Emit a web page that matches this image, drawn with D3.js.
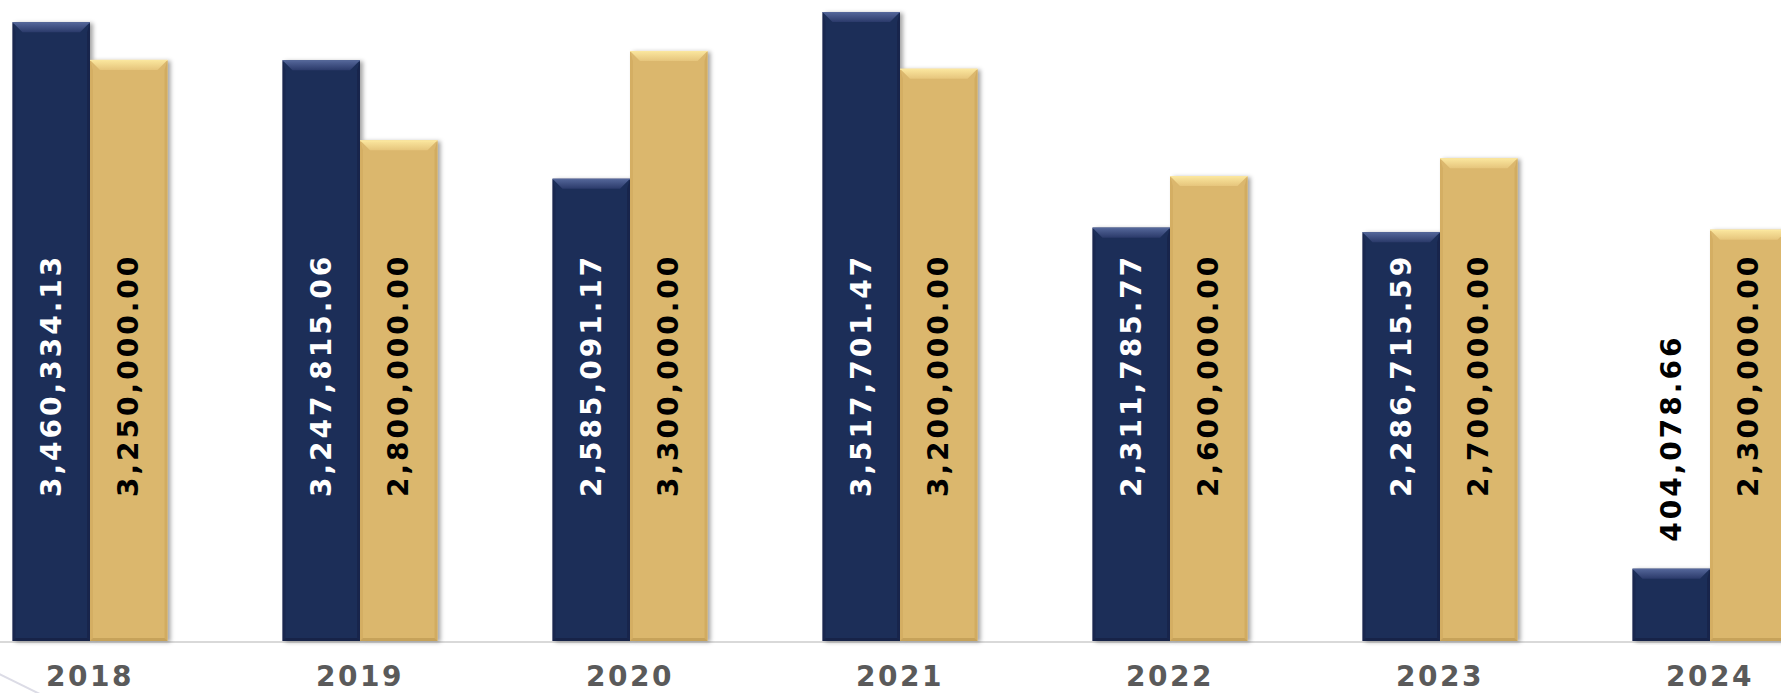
<!DOCTYPE html>
<html>
<head>
<meta charset="utf-8">
<script src="https://cdn.jsdelivr.net/npm/d3@7"></script>
<style>
  html, body { margin: 0; padding: 0; background: #ffffff; }
  svg { display: block; }
  text { font-family: "DejaVu Sans", sans-serif; font-weight: bold; }
</style>
</head>
<body>
<svg id="chart" width="1781" height="693"></svg>
<script>
// Yearly figures: actual amounts vs. planned amounts
const years = ["2018", "2019", "2020", "2021", "2022", "2023", "2024"];
const actual = [3460334.13, 3247815.06, 2585091.17, 3517701.47, 2311785.77, 2286715.59, 404078.66];
const planned = [3250000.00, 2800000.00, 3300000.00, 3200000.00, 2600000.00, 2700000.00, 2300000.00];
const seriesKeys = ["actual", "planned"];

const W = 1781, H = 693;
const baseY = 641;

const svg = d3.select("#chart");
const defs = svg.append("defs");

const palette = {
  actual:  { fill: "#1f2d58", bevelTop: "#55679a", bevelTop2: "#2b3a6a", side: "#18234a", bottom: "#141d3e", text: "#ffffff" },
  planned: { fill: "#dbb76d", bevelTop: "#fbe79f", bevelTop2: "#e6c57c", side: "#cfa95e", bottom: "#b8944e", text: "#000000" }
};

// soft shadow behind each bar
const shadow = defs.append("filter").attr("id", "barShadow")
  .attr("x", "-20%").attr("y", "-5%").attr("width", "140%").attr("height", "110%");
shadow.append("feDropShadow")
  .attr("dx", 3).attr("dy", 1).attr("stdDeviation", 2.2)
  .attr("flood-color", "#000").attr("flood-opacity", 0.35);

seriesKeys.forEach(k => {
  const g = defs.append("linearGradient").attr("id", "bevel-" + k)
    .attr("x1", 0).attr("y1", 0).attr("x2", 0).attr("y2", 1);
  g.append("stop").attr("offset", "0%").attr("stop-color", palette[k].bevelTop);
  g.append("stop").attr("offset", "100%").attr("stop-color", palette[k].bevelTop2);
});

// decorative swoosh in the lower-left corner
svg.append("line")
  .attr("x1", -5).attr("y1", 672).attr("x2", 48).attr("y2", 698)
  .attr("stroke", "#dcdce6").attr("stroke-width", 2);

const x = d3.scaleBand()
  .domain(years)
  .range([12.5, 1787.5])
  .paddingInner(115 / 270)
  .paddingOuter(0);

const xs = d3.scaleBand()
  .domain(seriesKeys)
  .range([0, x.bandwidth()])
  .padding(0);

const y = d3.scaleLinear()
  .domain([0, 3585000])
  .range([baseY, 0]);

const rows = years.map((yr, i) => ({ year: yr, actual: actual[i], planned: planned[i] }));

// baseline
svg.append("line")
  .attr("x1", 0).attr("x2", W)
  .attr("y1", baseY + 1).attr("y2", baseY + 1)
  .attr("stroke", "#d9d9d9").attr("stroke-width", 2);

const groups = svg.append("g").selectAll("g.year")
  .data(rows).join("g")
  .attr("class", "year")
  .attr("transform", d => `translate(${x(d.year)},0)`);

const bevel = 10;

const bars = groups.selectAll("g.bar")
  .data(d => seriesKeys.map(k => ({ key: k, value: d[k] })))
  .join("g")
  .attr("class", "bar");

bars.each(function (d) {
  const g = d3.select(this);
  const x0 = xs(d.key), w = xs.bandwidth();
  const top = y(d.value), bot = y(0);
  const c = palette[d.key];
  const b = Math.min(bevel, (bot - top) / 2);

  g.append("rect")
    .attr("x", x0).attr("y", top)
    .attr("width", w).attr("height", bot - top)
    .attr("fill", c.fill)
    .attr("filter", "url(#barShadow)");

  // left / right edge bevels
  g.append("path")
    .attr("d", `M${x0},${top} L${x0 + 3},${top + b} L${x0 + 3},${bot - 3} L${x0},${bot} Z`)
    .attr("fill", c.side).attr("opacity", 0.6);
  g.append("path")
    .attr("d", `M${x0 + w},${top} L${x0 + w - 3},${top + b} L${x0 + w - 3},${bot - 3} L${x0 + w},${bot} Z`)
    .attr("fill", c.side).attr("opacity", 0.8);

  // bottom bevel
  g.append("path")
    .attr("d", `M${x0},${bot} L${x0 + 3},${bot - 3} L${x0 + w - 3},${bot - 3} L${x0 + w},${bot} Z`)
    .attr("fill", c.bottom).attr("opacity", 0.6);

  // top bevel
  g.append("path")
    .attr("d", `M${x0},${top} L${x0 + w},${top} L${x0 + w - b},${top + b} L${x0 + b},${top + b} Z`)
    .attr("fill", `url(#bevel-${d.key})`);
  g.append("line")
    .attr("x1", x0).attr("x2", x0 + w)
    .attr("y1", top + 0.5).attr("y2", top + 0.5)
    .attr("stroke", c.bevelTop).attr("stroke-width", 1).attr("opacity", 0.9);
});

// value labels, rotated, reading bottom to top
const fmt = d3.format(",.2f");
const labelStart = baseY - 144;
const labelStyle = { size: 28, spacing: 3 };

bars.each(function (d) {
  const g = d3.select(this);
  const cx = xs(d.key) + xs.bandwidth() / 2;
  const t = g.append("text")
    .attr("font-size", labelStyle.size)
    .attr("letter-spacing", labelStyle.spacing)
    .attr("dominant-baseline", "central")
    .text(fmt(d.value));
  const len = t.node().getComputedTextLength();
  const top = y(d.value);
  let ly, fill;
  if (labelStart - len > top + 12) {
    ly = labelStart;
    fill = palette[d.key].text;
  } else {
    ly = top - 27;
    fill = "#000000";
  }
  t.attr("fill", fill)
    .attr("text-anchor", "start")
    .attr("transform", `translate(${cx},${ly}) rotate(-90)`);
});

// year labels
groups.append("text")
  .attr("x", x.bandwidth() / 2)
  .attr("y", 686)
  .attr("text-anchor", "middle")
  .attr("font-size", 28)
  .attr("letter-spacing", 2.5)
  .attr("fill", "#5a5a5a")
  .text(d => d.year);
</script>
</body>
</html>
